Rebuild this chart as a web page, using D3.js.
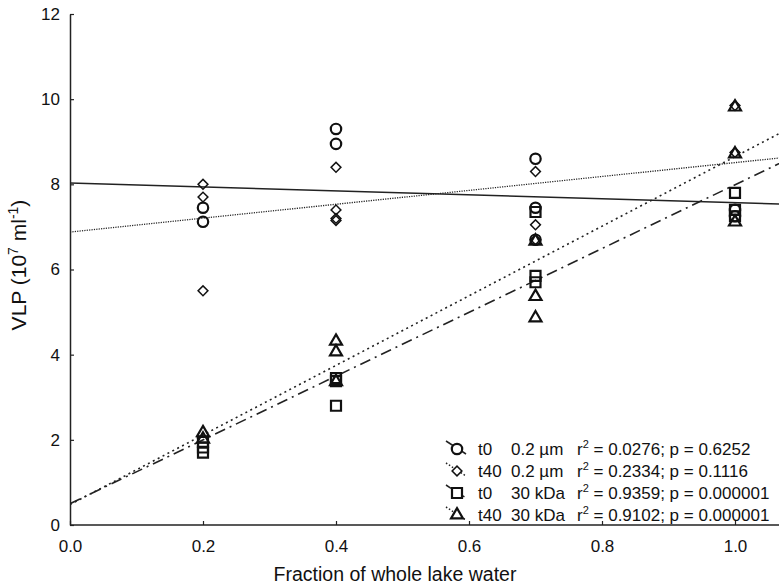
<!DOCTYPE html>
<html>
<head>
<meta charset="utf-8">
<script src="https://cdn.jsdelivr.net/npm/d3@7"></script>
<style>
body { margin: 0; background: #fff; }
text { font-family: "Liberation Sans", Arial, sans-serif; fill: #111; }
</style>
</head>
<body>
<script>
// x positions (fraction of whole lake water) and VLP values
var t0_02 = [[0.2, 7.45], [0.2, 7.12], [0.4, 9.3], [0.4, 8.95],
             [0.7, 8.6], [0.7, 7.45], [0.7, 6.7], [1.0, 7.4], [1.0, 7.25]];
var t40_02 = [[0.2, 8.0], [0.2, 7.7], [0.2, 5.5], [0.4, 8.4], [0.4, 7.4], [0.4, 7.2], [0.4, 7.15],
              [0.7, 8.3], [0.7, 7.05], [0.7, 6.7], [1.0, 9.85], [1.0, 8.75]];
var t0_30 = [[0.2, 1.95], [0.2, 1.82], [0.2, 1.7], [0.4, 3.45], [0.4, 3.38], [0.4, 2.8],
             [0.7, 7.35], [0.7, 5.85], [0.7, 5.7], [1.0, 7.8], [1.0, 7.4], [1.0, 7.25]];
var t40_30 = [[0.2, 2.2], [0.2, 2.05], [0.4, 4.35], [0.4, 4.1], [0.4, 3.4],
              [0.7, 6.7], [0.7, 5.4], [0.7, 4.9], [1.0, 9.85], [1.0, 8.75], [1.0, 7.15]];

// regression lines as [intercept, slope]
var fits = [[8.03, -0.46], [6.88, 1.63], [0.5, 7.49], [0.48, 8.17]];

var xTicks = [0.0, 0.2, 0.4, 0.6, 0.8, 1.0];
var yTicks = [0, 2, 4, 6, 8, 10, 12];
var legendNames = ["t0", "t40", "t0", "t40"];
var legendSizes = ["0.2 \u00b5m", "0.2 \u00b5m", "30 kDa", "30 kDa"];
var legendR2 = ["0.0276", "0.2334", "0.9359", "0.9102"];
var legendP = ["0.6252", "0.1116", "0.000001", "0.000001"];

var width = 779,
	height = 586;

var svg = d3.select("body").append("svg")
	.attr("width", width)
	.attr("height", height);

var x = d3.scaleLinear().domain([0, 1.1]).range([70, 70 + 1.1 * 665]);
var y = d3.scaleLinear().domain([0, 12]).range([525, 14]);

svg.append("clipPath").attr("id", "plot")
	.append("rect").attr("x", 70).attr("y", 0).attr("width", width - 70).attr("height", 526);

// axes
var xAxis = svg.append("g")
	.attr("transform", "translate(0,525)")
	.call(d3.axisBottom(x).tickValues(xTicks).tickFormat(d3.format(".1f"))
		.tickSizeInner(-4).tickSizeOuter(0).tickPadding(15));
xAxis.select(".domain").attr("d", "M70,0H" + width);

var yAxis = svg.append("g")
	.attr("transform", "translate(70,0)")
	.call(d3.axisLeft(y).tickValues(yTicks)
		.tickSizeInner(-4).tickSizeOuter(0).tickPadding(10));

svg.selectAll(".domain").attr("stroke", "#222").attr("stroke-width", 1.5);
svg.selectAll(".tick line").attr("stroke", "#222").attr("stroke-width", 1.2);
svg.selectAll(".tick text").style("font-size", "17px").attr("fill", "#111");

svg.append("text")
	.attr("x", 395).attr("y", 581)
	.attr("text-anchor", "middle")
	.style("font-size", "19.5px")
	.text("Fraction of whole lake water");

var yl = svg.append("text")
	.attr("transform", "translate(26,265) rotate(-90)")
	.attr("text-anchor", "middle")
	.style("font-size", "21px");
yl.append("tspan").text("VLP (10");
yl.append("tspan").attr("dy", -8).style("font-size", "14px").text("7");
yl.append("tspan").attr("dy", 8).text(" ml");
yl.append("tspan").attr("dy", -8).style("font-size", "14px").text("-1");
yl.append("tspan").attr("dy", 8).text(")");

// regression lines
var dashes = [null, "1.2,1.2", "11,5,2,5", "2,3.5"];
var widths = [1.5, 1.3, 1.6, 1.6];
var plot = svg.append("g").attr("clip-path", "url(#plot)");

plot.selectAll("line.fit")
	.data(fits)
	.enter().append("line")
	.attr("class", "fit")
	.attr("x1", x(0))
	.attr("y1", function(d) { return y(d[0]); })
	.attr("x2", x(1.1))
	.attr("y2", function(d) { return y(d[0] + d[1] * 1.1); })
	.attr("stroke", "#222")
	.attr("stroke-width", function(d, i) { return widths[i]; })
	.attr("stroke-dasharray", function(d, i) { return dashes[i]; });

// markers (diamond = rotated square)
var symbols = [
	d3.symbol().type(d3.symbolCircle).size(85),
	d3.symbol().type(d3.symbolSquare).size(48),
	d3.symbol().type(d3.symbolSquare).size(100),
	d3.symbol().type(d3.symbolTriangle).size(62)
];
var extra = ["", " rotate(45)", "", ""];
var strokeW = [2.2, 1.5, 2.2, 2.2];
var series = [t0_02, t40_02, t0_30, t40_30];

series.forEach(function(s, i) {
	plot.append("g").selectAll("path")
		.data(s)
		.enter().append("path")
		.attr("d", symbols[i])
		.attr("transform", function(d) {
			var dy = i == 3 ? 1.5 : 0;
			return "translate(" + x(d[0]) + "," + (y(d[1]) + dy) + ")" + extra[i];
		})
		.attr("fill", "none")
		.attr("stroke", "#111")
		.attr("stroke-width", strokeW[i]);
});

// legend
var legend = svg.append("g");
for (var i = 0; i < 4; i++) {
	var ly = 449 + i * 22;
	legend.append("line")
		.attr("x1", 446).attr("y1", ly - 8)
		.attr("x2", 466).attr("y2", ly + 5)
		.attr("stroke", "#222")
		.attr("stroke-width", 1.5)
		.attr("stroke-dasharray", i == 0 ? null : (i == 2 ? "6,2,2,2" : "1.5,2"));
	legend.append("path")
		.attr("d", symbols[i])
		.attr("transform", "translate(457," + ly + ")" + extra[i])
		.attr("fill", "#fff")
		.attr("stroke", "#111")
		.attr("stroke-width", strokeW[i]);
	legend.append("text").attr("x", 478).attr("y", ly + 6)
		.style("font-size", "17px").text(legendNames[i]);
	legend.append("text").attr("x", 511).attr("y", ly + 6)
		.style("font-size", "17px").text(legendSizes[i]);
	var t = legend.append("text").attr("x", 577).attr("y", ly + 6)
		.style("font-size", "17px");
	t.append("tspan").text("r");
	t.append("tspan").attr("dy", -7).style("font-size", "11px").text("2");
	t.append("tspan").attr("dy", 7).text(" = " + legendR2[i] + "; p = " + legendP[i]);
}
</script>
</body>
</html>
